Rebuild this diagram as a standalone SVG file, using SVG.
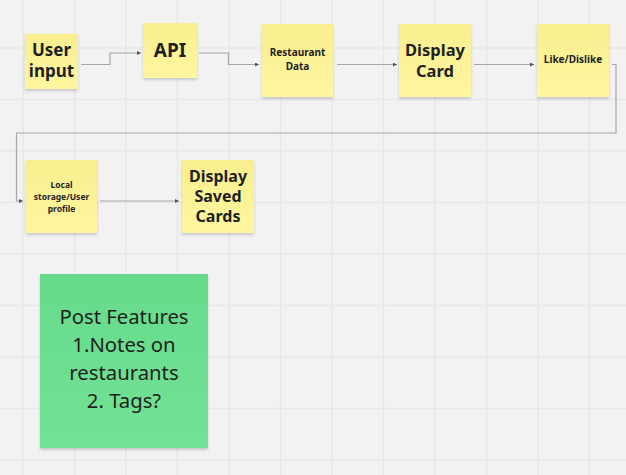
<svg xmlns="http://www.w3.org/2000/svg" width="626" height="475" viewBox="0 0 626 475">
<style>
.grid line{stroke:#e7e7e7;stroke-width:1.5}
.note{fill:url(#yel);filter:url(#sh)}
.green{fill:url(#grn);filter:url(#sh)}
.conn path{fill:none;stroke:#a6a6a6;stroke-width:1.2;marker-end:url(#arr)}
text{font-family:"Noto Sans","Open Sans","DejaVu Sans",sans-serif;fill:#1f1f1f;text-anchor:middle}
.b{font-weight:bold}
</style>
<defs>
<linearGradient id="yel" x1="0" y1="0" x2="0" y2="1">
<stop offset="0" stop-color="#f8ee8e"/>
<stop offset="1" stop-color="#fff6a0"/>
</linearGradient>
<linearGradient id="grn" x1="0" y1="0" x2="0" y2="1">
<stop offset="0" stop-color="#66da8a"/>
<stop offset="1" stop-color="#72e296"/>
</linearGradient>
<filter id="sh" x="-10%" y="-10%" width="120%" height="130%">
<feGaussianBlur in="SourceAlpha" stdDeviation="1.5"/>
<feOffset dx="0" dy="2" result="b"/>
<feComponentTransfer><feFuncA type="linear" slope="0.18"/></feComponentTransfer>
<feMerge><feMergeNode/><feMergeNode in="SourceGraphic"/></feMerge>
</filter>
<marker id="arr" viewBox="0 0 6 6" refX="6" refY="3" markerWidth="4" markerHeight="4" orient="auto" markerUnits="userSpaceOnUse">
<path d="M0,0 L6,3 L0,6 Z" fill="#555"/>
</marker>
</defs>
<rect width="626" height="475" fill="#f2f2f2"/>
<g class="grid">
<line x1="23" y1="0" x2="23" y2="475"/>
<line x1="74.5" y1="0" x2="74.5" y2="475"/>
<line x1="126" y1="0" x2="126" y2="475"/>
<line x1="177.5" y1="0" x2="177.5" y2="475"/>
<line x1="229" y1="0" x2="229" y2="475"/>
<line x1="280.5" y1="0" x2="280.5" y2="475"/>
<line x1="332" y1="0" x2="332" y2="475"/>
<line x1="383.5" y1="0" x2="383.5" y2="475"/>
<line x1="435" y1="0" x2="435" y2="475"/>
<line x1="486.5" y1="0" x2="486.5" y2="475"/>
<line x1="538" y1="0" x2="538" y2="475"/>
<line x1="589.5" y1="0" x2="589.5" y2="475"/>
<line x1="0" y1="48" x2="626" y2="48"/>
<line x1="0" y1="99.5" x2="626" y2="99.5"/>
<line x1="0" y1="151" x2="626" y2="151"/>
<line x1="0" y1="202.5" x2="626" y2="202.5"/>
<line x1="0" y1="254" x2="626" y2="254"/>
<line x1="0" y1="305.5" x2="626" y2="305.5"/>
<line x1="0" y1="357" x2="626" y2="357"/>
<line x1="0" y1="408.5" x2="626" y2="408.5"/>
<line x1="0" y1="460" x2="626" y2="460"/>
</g>
<g class="conn" id="connectors">
<path d="M81,64.5 H110 V53 H141"/>
<path d="M199,53 H228.5 V64.5 H259"/>
<path d="M337,64.5 H397"/>
<path d="M474,64.5 H534"/>
<path d="M612,64.5 H616 V133 H16.5 V201 H23"/>
<path d="M100,201 H179"/>
</g>
<g id="user-input">
<rect class="note" x="25" y="34" width="53" height="55"/>
<text class="b" x="51.5" y="56" font-size="17">User</text>
<text class="b" x="51.5" y="77" font-size="17">input</text>
</g>
<g id="api">
<rect class="note" x="143" y="23" width="54" height="55"/>
<text class="b" x="170" y="57" font-size="19">API</text>
</g>
<g id="restaurant-data">
<rect class="note" x="262" y="24" width="71" height="73"/>
<text class="b" x="297.5" y="56" font-size="10">Restaurant</text>
<text class="b" x="297.5" y="70" font-size="10">Data</text>
</g>
<g id="display-card">
<rect class="note" x="399" y="24" width="72" height="73"/>
<text class="b" x="435" y="56" font-size="16.5">Display</text>
<text class="b" x="435" y="77" font-size="16.5">Card</text>
</g>
<g id="like-dislike">
<rect class="note" x="537" y="24" width="72" height="73"/>
<text class="b" x="573" y="63" font-size="10">Like/Dislike</text>
</g>
<g id="local-storage">
<rect class="note" x="26" y="160" width="71" height="73"/>
<text class="b" x="61.5" y="188" font-size="8.5">Local</text>
<text class="b" x="61.5" y="200" font-size="8.5">storage/User</text>
<text class="b" x="61.5" y="211.5" font-size="8.5">profile</text>
</g>
<g id="display-saved-cards">
<rect class="note" x="182" y="160" width="72" height="73"/>
<text class="b" x="218" y="182" font-size="16">Display</text>
<text class="b" x="218" y="202" font-size="16">Saved</text>
<text class="b" x="218" y="222" font-size="16">Cards</text>
</g>
<g id="post-features">
<rect class="green" x="40" y="274" width="168" height="174"/>
<text x="124" y="324" font-size="20.3">Post Features</text>
<text x="124" y="352" font-size="20.3">1.Notes on</text>
<text x="124" y="380" font-size="20.3">restaurants</text>
<text x="124" y="408" font-size="20.3">2. Tags?</text>
</g>
</svg>
